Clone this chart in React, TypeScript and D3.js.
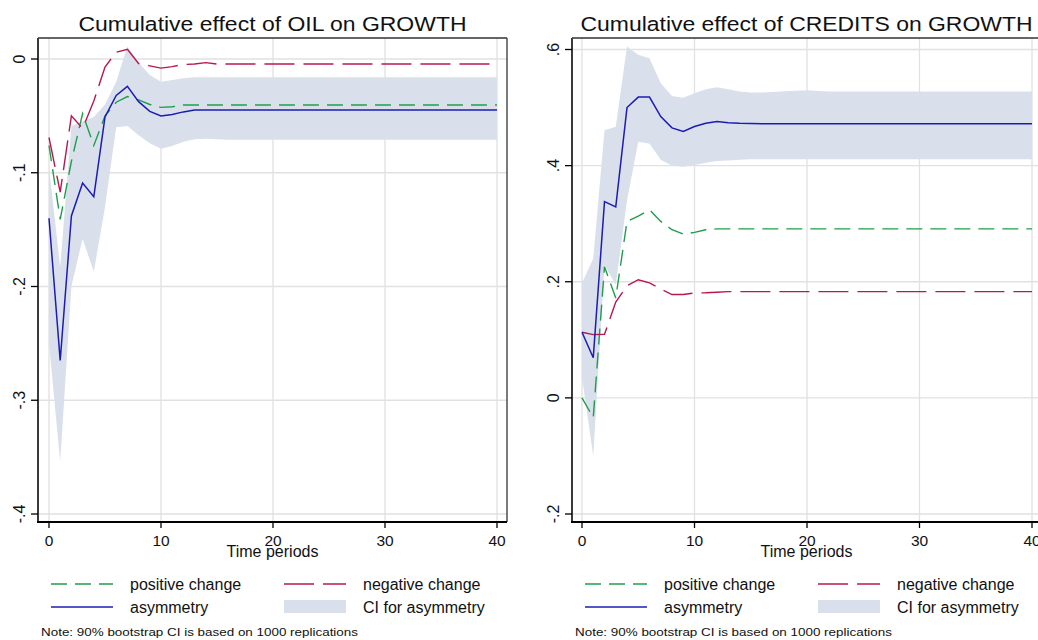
import React from 'react';
import * as d3 from 'd3';

// ---------- data ----------
const xTicks = [0, 10, 20, 30, 40];
const xTickLabels = ['0', '10', '20', '30', '40'];

const oilYTicks = [0, -0.1, -0.2, -0.3, -0.4];
const oilYLabels = ['0', '-.1', '-.2', '-.3', '-.4'];
const credYTicks = [0.6, 0.4, 0.2, 0, -0.2];
const credYLabels = ['.6', '.4', '.2', '0', '-.2'];

// OIL on GROWTH (t = 0..40)
const oilPositive = [-0.076, -0.141, -0.090, -0.048, -0.076, -0.050, -0.038, -0.033, -0.036, -0.040, -0.0425, -0.042, -0.0405,
  -0.0404, -0.0404, -0.0404, -0.0404, -0.0404, -0.0404, -0.0404, -0.0404, -0.0404, -0.0404, -0.0404, -0.0404, -0.0404, -0.0404,
  -0.0404, -0.0404, -0.0404, -0.0404, -0.0404, -0.0404, -0.0404, -0.0404, -0.0404, -0.0404, -0.0404, -0.0404, -0.0404, -0.0404];
const oilNegative = [-0.069, -0.117, -0.050, -0.061, -0.037, -0.007, 0.006, 0.0085, -0.004, -0.006, -0.008, -0.0067, -0.0048,
  -0.0044, -0.0032, -0.0044, -0.0044, -0.0044, -0.0044, -0.0044, -0.0044, -0.0044, -0.0044, -0.0044, -0.0044, -0.0044, -0.0044,
  -0.0044, -0.0044, -0.0044, -0.0044, -0.0044, -0.0044, -0.0044, -0.0044, -0.0044, -0.0044, -0.0044, -0.0044, -0.0044, -0.0044];
const oilAsymmetry = [-0.140, -0.265, -0.138, -0.109, -0.121, -0.051, -0.032, -0.024, -0.0375, -0.046, -0.050, -0.0488, -0.0465,
  -0.0449, -0.0448, -0.0448, -0.0448, -0.0448, -0.0448, -0.0448, -0.0448, -0.0448, -0.0448, -0.0448, -0.0448, -0.0448, -0.0448,
  -0.0448, -0.0448, -0.0448, -0.0448, -0.0448, -0.0448, -0.0448, -0.0448, -0.0448, -0.0448, -0.0448, -0.0448, -0.0448, -0.0448];
const oilCiUpper = [-0.095, -0.183, -0.059, -0.055, -0.051, -0.040, -0.020, 0.011, -0.003, -0.014, -0.020, -0.0185, -0.017,
  -0.016, -0.016, -0.016, -0.016, -0.016, -0.016, -0.016, -0.016, -0.016, -0.016, -0.016, -0.016, -0.016, -0.016,
  -0.016, -0.016, -0.016, -0.016, -0.016, -0.016, -0.016, -0.016, -0.016, -0.016, -0.016, -0.016, -0.016, -0.016];
const oilCiLower = [-0.250, -0.354, -0.200, -0.158, -0.187, -0.130, -0.060, -0.059, -0.067, -0.074, -0.079, -0.0765, -0.0727,
  -0.0706, -0.0700, -0.0705, -0.0710, -0.0710, -0.0710, -0.0710, -0.0710, -0.0710, -0.0710, -0.0710, -0.0710, -0.0710, -0.0710,
  -0.0710, -0.0710, -0.0710, -0.0710, -0.0710, -0.0710, -0.0710, -0.0710, -0.0710, -0.0710, -0.0710, -0.0710, -0.0710, -0.0710];

// CREDITS on GROWTH (t = 0..40)
const credPositive = [0.000, -0.034, 0.226, 0.172, 0.304, 0.313, 0.324, 0.304, 0.2896, 0.282, 0.285, 0.2896, 0.291,
  0.291, 0.291, 0.291, 0.291, 0.291, 0.291, 0.291, 0.291, 0.291, 0.291, 0.291, 0.291, 0.291, 0.291,
  0.291, 0.291, 0.291, 0.291, 0.291, 0.291, 0.291, 0.291, 0.291, 0.291, 0.291, 0.291, 0.291, 0.291];
const credNegative = [0.113, 0.109, 0.1095, 0.165, 0.193, 0.2035, 0.198, 0.1875, 0.178, 0.178, 0.1806, 0.181, 0.182,
  0.183, 0.183, 0.183, 0.183, 0.183, 0.183, 0.183, 0.183, 0.183, 0.183, 0.183, 0.183, 0.183, 0.183,
  0.183, 0.183, 0.183, 0.183, 0.183, 0.183, 0.183, 0.183, 0.183, 0.183, 0.183, 0.183, 0.183, 0.183];
const credAsymmetry = [0.113, 0.069, 0.338, 0.329, 0.500, 0.518, 0.518, 0.4845, 0.465, 0.4587, 0.4673, 0.473, 0.476,
  0.474, 0.473, 0.4725, 0.472, 0.472, 0.472, 0.472, 0.472, 0.472, 0.472, 0.472, 0.472, 0.472, 0.472,
  0.472, 0.472, 0.472, 0.472, 0.472, 0.472, 0.472, 0.472, 0.472, 0.472, 0.472, 0.472, 0.472, 0.472];
const credCiUpper = [0.198, 0.240, 0.461, 0.467, 0.605, 0.591, 0.585, 0.542, 0.520, 0.517, 0.5247, 0.5316, 0.535,
  0.5316, 0.5275, 0.526, 0.526, 0.527, 0.528, 0.529, 0.530, 0.5285, 0.5275, 0.5275, 0.5275, 0.5275, 0.5275,
  0.5275, 0.5275, 0.5275, 0.5275, 0.5275, 0.5275, 0.5275, 0.5275, 0.5275, 0.5275, 0.5275, 0.5275, 0.5275, 0.5275];
const credCiLower = [0.035, -0.100, 0.229, 0.195, 0.340, 0.441, 0.4375, 0.410, 0.3996, 0.398, 0.401, 0.405, 0.408,
  0.409, 0.410, 0.411, 0.411, 0.411, 0.411, 0.411, 0.411, 0.411, 0.411, 0.411, 0.411, 0.411, 0.411,
  0.411, 0.411, 0.411, 0.411, 0.411, 0.411, 0.411, 0.411, 0.411, 0.411, 0.411, 0.411, 0.411, 0.411];

const legendLabels = ['positive change', 'negative change', 'asymmetry', 'CI for asymmetry'];
const noteText = 'Note: 90% bootstrap CI is based on 1000 replications';

// ---------- styles ----------
const FONT = "'Liberation Sans', Arial, Helvetica, sans-serif";
const GREEN = '#1f9e4a';
const RED = '#b8184f';
const BLUE = '#1c1cb4';
const BAND = '#d9e0ec';
const GRID = '#e1e1e1';

type PanelProps = {
  left: number;
  title: string;
  titleLen: number;
  xRange: [number, number];
  yDomain: [number, number];
  yRange: [number, number];
  yTicks: number[];
  yLabels: string[];
  pos: number[];
  neg: number[];
  asym: number[];
  lo: number[];
  hi: number[];
};

function Panel(p: PanelProps) {
  const plotLeft = p.left;
  const plotRight = p.left + 469;
  const plotTop = 38;
  const plotBottom = 522;
  const x = d3.scaleLinear().domain([0, 40]).range(p.xRange);
  const y = d3.scaleLinear().domain(p.yDomain).range(p.yRange);

  const line = d3.line<number>().x((_, i) => x(i)).y((d) => y(d));
  const area = d3
    .area<number>()
    .x((_, i) => x(i))
    .y0((_, i) => y(p.lo[i]))
    .y1((d) => y(d));

  const cx = (plotLeft + plotRight) / 2;
  const lx = plotLeft;

  return (
    <g>
      <text x={cx} y={31} fontFamily={FONT} fontSize={20.5} textAnchor="middle" fill="#111"
        textLength={p.titleLen} lengthAdjust="spacingAndGlyphs">{p.title}</text>

      {/* grid */}
      {p.yTicks.map((t) => (
        <line key={'gy' + t} x1={plotLeft} x2={plotRight} y1={y(t)} y2={y(t)} stroke={GRID} strokeWidth={1.3} />
      ))}
      {xTicks.map((t) => (
        <line key={'gx' + t} x1={x(t)} x2={x(t)} y1={plotTop} y2={plotBottom} stroke={GRID} strokeWidth={1.3} />
      ))}

      {/* CI band */}
      <path d={area(p.hi) || ''} fill={BAND} stroke="none" />

      {/* lines */}
      <path d={line(p.pos) || ''} fill="none" stroke={GREEN} strokeWidth={1.4} strokeDasharray="16,8" />
      <path d={line(p.neg) || ''} fill="none" stroke={RED} strokeWidth={1.4} strokeDasharray="30,9" />
      <path d={line(p.asym) || ''} fill="none" stroke={BLUE} strokeWidth={1.5} />

      {/* frame */}
      <line x1={plotLeft} x2={plotRight} y1={plotTop} y2={plotTop} stroke="#333" strokeWidth={1.3} />
      <line x1={plotRight} x2={plotRight} y1={plotTop} y2={plotBottom} stroke="#333" strokeWidth={1.3} />
      <line x1={plotLeft} x2={plotLeft} y1={plotTop} y2={plotBottom + 1} stroke="#3a3a3a" strokeWidth={2} />
      <line x1={plotLeft - 1} x2={plotRight} y1={plotBottom} y2={plotBottom} stroke="#000" strokeWidth={2.2} />

      {/* y ticks */}
      {p.yTicks.map((t, i) => (
        <g key={'yt' + t}>
          <line x1={plotLeft - 7} x2={plotLeft} y1={y(t)} y2={y(t)} stroke="#000" strokeWidth={1.3} />
          <text transform={`translate(${plotLeft - 13},${y(t)}) rotate(-90)`} fontFamily={FONT} fontSize={16}
            textAnchor="middle" fill="#111">{p.yLabels[i]}</text>
        </g>
      ))}

      {/* x ticks */}
      {xTicks.map((t, i) => (
        <g key={'xt' + t}>
          <line x1={x(t)} x2={x(t)} y1={plotBottom} y2={plotBottom + 6} stroke="#000" strokeWidth={1.3} />
          <text x={x(t)} y={546} fontFamily={FONT} fontSize={15.5} textAnchor="middle" fill="#111">{xTickLabels[i]}</text>
        </g>
      ))}
      <text x={cx} y={557} fontFamily={FONT} fontSize={16} textAnchor="middle" fill="#111">Time periods</text>

      {/* legend */}
      <line x1={lx + 13} x2={lx + 75} y1={584} y2={584} stroke={GREEN} strokeWidth={1.4} strokeDasharray="16,8" />
      <text x={lx + 92} y={589.5} fontFamily={FONT} fontSize={16} fill="#111">{legendLabels[0]}</text>
      <line x1={lx + 246} x2={lx + 308} y1={584} y2={584} stroke={RED} strokeWidth={1.4} strokeDasharray="30,9" />
      <text x={lx + 325} y={589.5} fontFamily={FONT} fontSize={16} fill="#111">{legendLabels[1]}</text>
      <line x1={lx + 13} x2={lx + 75} y1={607} y2={607} stroke={BLUE} strokeWidth={1.5} />
      <text x={lx + 92} y={612.5} fontFamily={FONT} fontSize={16} fill="#111">{legendLabels[2]}</text>
      <rect x={lx + 246} y={600} width={62} height={13} fill={BAND} />
      <text x={lx + 325} y={612.5} fontFamily={FONT} fontSize={16} fill="#111">{legendLabels[3]}</text>

      <text x={lx + 3} y={636} fontFamily={FONT} fontSize={11} fill="#111" textLength={317}
        lengthAdjust="spacingAndGlyphs">{noteText}</text>
    </g>
  );
}

export default function App() {
  return (
    <svg width={1038} height={640} style={{ position: 'absolute', left: 0, top: 0, background: '#fff' }}>
      <rect x={0} y={0} width={1038} height={640} fill="#fff" />
      <Panel
        left={38}
        title="Cumulative effect of OIL on GROWTH"
        titleLen={388}
        xRange={[49, 497]}
        yDomain={[0, -0.4]}
        yRange={[59, 514]}
        yTicks={oilYTicks}
        yLabels={oilYLabels}
        pos={oilPositive}
        neg={oilNegative}
        asym={oilAsymmetry}
        lo={oilCiLower}
        hi={oilCiUpper}
      />
      <Panel
        left={572}
        title="Cumulative effect of CREDITS on GROWTH"
        titleLen={452}
        xRange={[582, 1032]}
        yDomain={[0.6, -0.2]}
        yRange={[49.5, 514]}
        yTicks={credYTicks}
        yLabels={credYLabels}
        pos={credPositive}
        neg={credNegative}
        asym={credAsymmetry}
        lo={credCiLower}
        hi={credCiUpper}
      />
    </svg>
  );
}
